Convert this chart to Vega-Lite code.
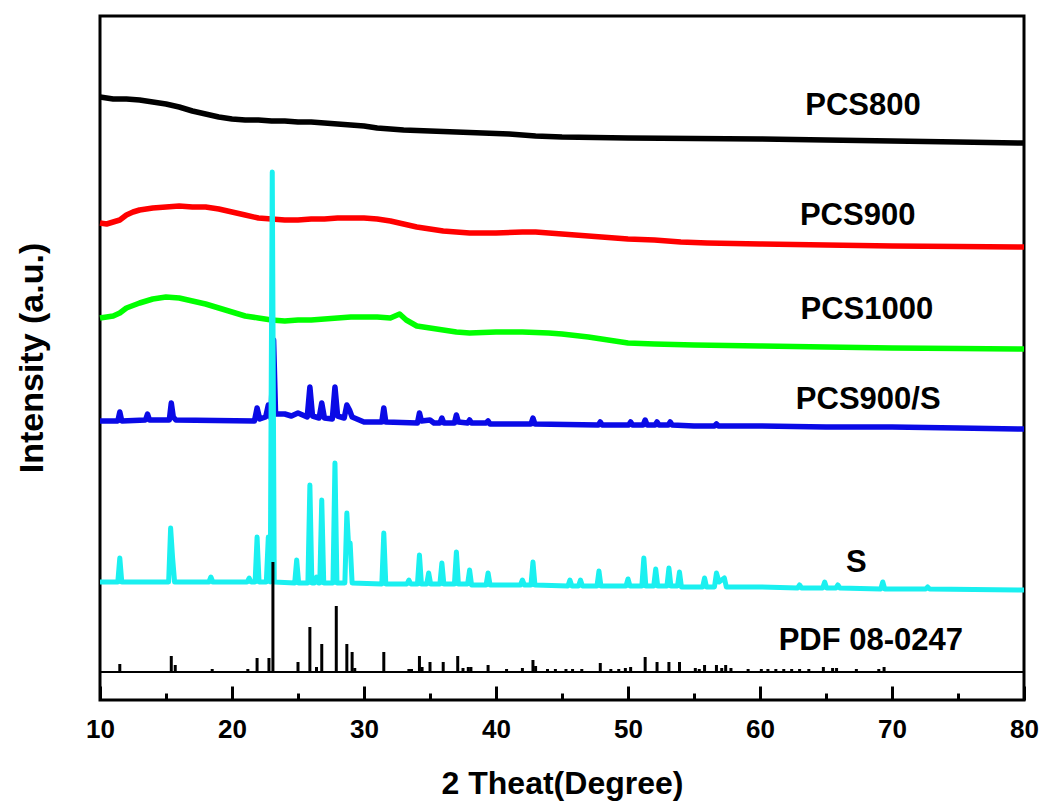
{
  "$schema": "https://vega.github.io/schema/vega-lite/v6.json",
  "width": 924,
  "height": 684,
  "autosize": "none",
  "padding": {"left": 100, "top": 16, "right": 20, "bottom": 102},
  "background": "white",
  "title": {
    "text": "Intensity (a.u.)",
    "orient": "left",
    "anchor": "middle",
    "frame": "group",
    "font": "Liberation Sans",
    "fontSize": 34,
    "fontWeight": "bold",
    "color": "black",
    "offset": 36
  },
  "config": {
    "view": {"stroke": "black", "strokeWidth": 3},
    "font": "Liberation Sans"
  },
  "datasets": {
    "curves": [
      {"s":"PCS800","x":10,"y":603},{"s":"PCS800","x":11,"y":601},{"s":"PCS800","x":12,"y":601},{"s":"PCS800","x":13,"y":600},{"s":"PCS800","x":14,"y":598},{"s":"PCS800","x":15,"y":596},{"s":"PCS800","x":16,"y":593},{"s":"PCS800","x":17,"y":589},{"s":"PCS800","x":18,"y":586},{"s":"PCS800","x":19,"y":583},{"s":"PCS800","x":20,"y":581},{"s":"PCS800","x":21,"y":580},{"s":"PCS800","x":22,"y":580},{"s":"PCS800","x":23,"y":579},{"s":"PCS800","x":24,"y":579},{"s":"PCS800","x":25,"y":578},{"s":"PCS800","x":26,"y":578},{"s":"PCS800","x":27,"y":577},{"s":"PCS800","x":28,"y":576},{"s":"PCS800","x":29,"y":575},{"s":"PCS800","x":30,"y":574},{"s":"PCS800","x":31,"y":572},{"s":"PCS800","x":32,"y":571},{"s":"PCS800","x":33,"y":570},{"s":"PCS800","x":35,"y":569},{"s":"PCS800","x":37,"y":568},{"s":"PCS800","x":39,"y":567},{"s":"PCS800","x":41,"y":566},{"s":"PCS800","x":43,"y":564},{"s":"PCS800","x":45,"y":563},{"s":"PCS800","x":50,"y":562},{"s":"PCS800","x":55,"y":561.5},{"s":"PCS800","x":60,"y":561},{"s":"PCS800","x":65,"y":560},{"s":"PCS800","x":70,"y":559},{"s":"PCS800","x":75,"y":558},{"s":"PCS800","x":80,"y":557},
      {"s":"PCS900","x":10,"y":477},{"s":"PCS900","x":10.5,"y":476},{"s":"PCS900","x":11,"y":478},{"s":"PCS900","x":11.5,"y":480},{"s":"PCS900","x":12,"y":485},{"s":"PCS900","x":12.5,"y":488},{"s":"PCS900","x":13,"y":490},{"s":"PCS900","x":14,"y":492},{"s":"PCS900","x":15,"y":493},{"s":"PCS900","x":16,"y":494},{"s":"PCS900","x":17,"y":493},{"s":"PCS900","x":18,"y":493},{"s":"PCS900","x":19,"y":491},{"s":"PCS900","x":20,"y":488},{"s":"PCS900","x":21,"y":485},{"s":"PCS900","x":22,"y":482},{"s":"PCS900","x":23,"y":481},{"s":"PCS900","x":24,"y":480},{"s":"PCS900","x":25,"y":480},{"s":"PCS900","x":26,"y":481},{"s":"PCS900","x":27,"y":481},{"s":"PCS900","x":28,"y":482},{"s":"PCS900","x":29,"y":482},{"s":"PCS900","x":30,"y":482},{"s":"PCS900","x":31,"y":481},{"s":"PCS900","x":32,"y":479},{"s":"PCS900","x":33,"y":476},{"s":"PCS900","x":34,"y":473},{"s":"PCS900","x":35,"y":471},{"s":"PCS900","x":36,"y":469},{"s":"PCS900","x":37,"y":468},{"s":"PCS900","x":38,"y":467},{"s":"PCS900","x":40,"y":467},{"s":"PCS900","x":42,"y":468},{"s":"PCS900","x":43,"y":468},{"s":"PCS900","x":44,"y":467},{"s":"PCS900","x":45,"y":466},{"s":"PCS900","x":46,"y":465},{"s":"PCS900","x":48,"y":463},{"s":"PCS900","x":50,"y":461},{"s":"PCS900","x":52,"y":460},{"s":"PCS900","x":54,"y":458},{"s":"PCS900","x":56,"y":457},{"s":"PCS900","x":60,"y":456},{"s":"PCS900","x":65,"y":455},{"s":"PCS900","x":70,"y":454},{"s":"PCS900","x":75,"y":453.5},{"s":"PCS900","x":80,"y":453},
      {"s":"PCS1000","x":10,"y":382},{"s":"PCS1000","x":11,"y":384},{"s":"PCS1000","x":11.5,"y":387},{"s":"PCS1000","x":12,"y":392},{"s":"PCS1000","x":13,"y":397},{"s":"PCS1000","x":14,"y":401},{"s":"PCS1000","x":15,"y":403},{"s":"PCS1000","x":16,"y":402},{"s":"PCS1000","x":17,"y":399},{"s":"PCS1000","x":18,"y":396},{"s":"PCS1000","x":19,"y":392},{"s":"PCS1000","x":20,"y":388},{"s":"PCS1000","x":21,"y":384},{"s":"PCS1000","x":22,"y":382},{"s":"PCS1000","x":23,"y":380},{"s":"PCS1000","x":24,"y":379},{"s":"PCS1000","x":25,"y":380},{"s":"PCS1000","x":26,"y":380},{"s":"PCS1000","x":27,"y":381},{"s":"PCS1000","x":28,"y":382},{"s":"PCS1000","x":29,"y":383},{"s":"PCS1000","x":30,"y":383},{"s":"PCS1000","x":31,"y":383},{"s":"PCS1000","x":32,"y":382},{"s":"PCS1000","x":32.7,"y":386},{"s":"PCS1000","x":33.2,"y":380},{"s":"PCS1000","x":34,"y":374},{"s":"PCS1000","x":35,"y":372},{"s":"PCS1000","x":36,"y":370},{"s":"PCS1000","x":37,"y":368},{"s":"PCS1000","x":38,"y":367},{"s":"PCS1000","x":40,"y":368},{"s":"PCS1000","x":42,"y":368},{"s":"PCS1000","x":44,"y":367},{"s":"PCS1000","x":45,"y":366},{"s":"PCS1000","x":47,"y":363},{"s":"PCS1000","x":49,"y":359},{"s":"PCS1000","x":50,"y":357},{"s":"PCS1000","x":52,"y":356},{"s":"PCS1000","x":55,"y":355},{"s":"PCS1000","x":60,"y":354},{"s":"PCS1000","x":65,"y":353},{"s":"PCS1000","x":70,"y":352},{"s":"PCS1000","x":75,"y":351.5},{"s":"PCS1000","x":80,"y":351},
      {"s":"PCS900/S","x":10,"y":279},{"s":"PCS900/S","x":11.35,"y":279},{"s":"PCS900/S","x":11.5,"y":288},{"s":"PCS900/S","x":11.65,"y":279},{"s":"PCS900/S","x":13.45,"y":280},{"s":"PCS900/S","x":13.6,"y":286},{"s":"PCS900/S","x":13.75,"y":280},{"s":"PCS900/S","x":15.25,"y":280},{"s":"PCS900/S","x":15.4,"y":297},{"s":"PCS900/S","x":15.55,"y":283},{"s":"PCS900/S","x":15.75,"y":280},{"s":"PCS900/S","x":21.7,"y":279},{"s":"PCS900/S","x":21.9,"y":292},{"s":"PCS900/S","x":22.1,"y":281},{"s":"PCS900/S","x":22.55,"y":283},{"s":"PCS900/S","x":22.75,"y":295},{"s":"PCS900/S","x":22.95,"y":282},{"s":"PCS900/S","x":23.15,"y":360},{"s":"PCS900/S","x":23.3,"y":286},{"s":"PCS900/S","x":24,"y":286},{"s":"PCS900/S","x":24.5,"y":284},{"s":"PCS900/S","x":25,"y":287},{"s":"PCS900/S","x":25.7,"y":283},{"s":"PCS900/S","x":25.9,"y":313},{"s":"PCS900/S","x":26.1,"y":284},{"s":"PCS900/S","x":26.6,"y":282},{"s":"PCS900/S","x":26.8,"y":297},{"s":"PCS900/S","x":27,"y":282},{"s":"PCS900/S","x":27.6,"y":281},{"s":"PCS900/S","x":27.8,"y":313},{"s":"PCS900/S","x":28,"y":284},{"s":"PCS900/S","x":28.5,"y":282},{"s":"PCS900/S","x":28.7,"y":295},{"s":"PCS900/S","x":28.9,"y":290},{"s":"PCS900/S","x":29.1,"y":283},{"s":"PCS900/S","x":30,"y":278},{"s":"PCS900/S","x":31.35,"y":278},{"s":"PCS900/S","x":31.5,"y":292},{"s":"PCS900/S","x":31.65,"y":278},{"s":"PCS900/S","x":34.05,"y":277},{"s":"PCS900/S","x":34.2,"y":287},{"s":"PCS900/S","x":34.35,"y":279},{"s":"PCS900/S","x":35,"y":280},{"s":"PCS900/S","x":35.3,"y":277},{"s":"PCS900/S","x":35.75,"y":277},{"s":"PCS900/S","x":35.9,"y":282},{"s":"PCS900/S","x":36.05,"y":277},{"s":"PCS900/S","x":36.85,"y":277},{"s":"PCS900/S","x":37,"y":285},{"s":"PCS900/S","x":37.15,"y":278},{"s":"PCS900/S","x":37.85,"y":277},{"s":"PCS900/S","x":38,"y":280},{"s":"PCS900/S","x":38.15,"y":277},{"s":"PCS900/S","x":39.25,"y":277},{"s":"PCS900/S","x":39.4,"y":279},{"s":"PCS900/S","x":39.55,"y":276},{"s":"PCS900/S","x":42.65,"y":276},{"s":"PCS900/S","x":42.8,"y":282},{"s":"PCS900/S","x":42.95,"y":276},{"s":"PCS900/S","x":47.75,"y":275},{"s":"PCS900/S","x":47.9,"y":278},{"s":"PCS900/S","x":48.05,"y":275},{"s":"PCS900/S","x":50.05,"y":275},{"s":"PCS900/S","x":50.2,"y":278},{"s":"PCS900/S","x":50.35,"y":275},{"s":"PCS900/S","x":51.15,"y":275},{"s":"PCS900/S","x":51.3,"y":280},{"s":"PCS900/S","x":51.45,"y":275},{"s":"PCS900/S","x":52.05,"y":275},{"s":"PCS900/S","x":52.2,"y":278},{"s":"PCS900/S","x":52.35,"y":275},{"s":"PCS900/S","x":53.05,"y":275},{"s":"PCS900/S","x":53.2,"y":278},{"s":"PCS900/S","x":53.35,"y":275},{"s":"PCS900/S","x":55,"y":274},{"s":"PCS900/S","x":56.55,"y":274},{"s":"PCS900/S","x":56.7,"y":276},{"s":"PCS900/S","x":56.85,"y":274},{"s":"PCS900/S","x":60,"y":274},{"s":"PCS900/S","x":65,"y":273},{"s":"PCS900/S","x":70,"y":273},{"s":"PCS900/S","x":75,"y":272},{"s":"PCS900/S","x":80,"y":271}
    ],
    "sulfur": [
      {"x":10,"y":118},{"x":11.35,"y":118},{"x":11.5,"y":142},{"x":11.65,"y":118},{"x":15.2,"y":118},{"x":15.35,"y":172},{"x":15.5,"y":142},{"x":15.65,"y":118},{"x":18.25,"y":118},{"x":18.4,"y":123},{"x":18.55,"y":118},{"x":21.15,"y":118},{"x":21.3,"y":122},{"x":21.45,"y":118},{"x":21.75,"y":118},{"x":21.9,"y":163},{"x":22.05,"y":118},{"x":22.6,"y":118},{"x":22.75,"y":163},{"x":22.9,"y":118},{"x":23.05,"y":528},{"x":23.2,"y":118},{"x":24.75,"y":117},{"x":24.9,"y":140},{"x":25.05,"y":117},{"x":25.75,"y":117},{"x":25.9,"y":215},{"x":26.05,"y":117},{"x":26.25,"y":117},{"x":26.4,"y":123},{"x":26.55,"y":117},{"x":26.65,"y":117},{"x":26.8,"y":200},{"x":26.95,"y":117},{"x":27.65,"y":117},{"x":27.8,"y":237},{"x":27.95,"y":117},{"x":28.55,"y":117},{"x":28.7,"y":187},{"x":28.85,"y":150},{"x":28.95,"y":157},{"x":29.1,"y":117},{"x":31.35,"y":116},{"x":31.5,"y":167},{"x":31.65,"y":116},{"x":33.25,"y":116},{"x":33.4,"y":120},{"x":33.55,"y":116},{"x":34.05,"y":116},{"x":34.2,"y":145},{"x":34.35,"y":116},{"x":34.75,"y":116},{"x":34.9,"y":127},{"x":35.05,"y":116},{"x":35.75,"y":116},{"x":35.9,"y":137},{"x":36.05,"y":116},{"x":36.85,"y":116},{"x":37,"y":148},{"x":37.15,"y":116},{"x":37.85,"y":116},{"x":38,"y":130},{"x":38.15,"y":115},{"x":39.25,"y":115},{"x":39.4,"y":127},{"x":39.55,"y":115},{"x":41.85,"y":115},{"x":42,"y":120},{"x":42.15,"y":115},{"x":42.65,"y":115},{"x":42.8,"y":138},{"x":42.95,"y":115},{"x":45.45,"y":114},{"x":45.6,"y":120},{"x":45.75,"y":114},{"x":46.25,"y":114},{"x":46.4,"y":120},{"x":46.55,"y":114},{"x":47.65,"y":114},{"x":47.8,"y":129},{"x":47.95,"y":114},{"x":49.85,"y":114},{"x":50,"y":121},{"x":50.15,"y":114},{"x":51.05,"y":114},{"x":51.2,"y":142},{"x":51.35,"y":114},{"x":51.95,"y":114},{"x":52.1,"y":131},{"x":52.25,"y":114},{"x":52.95,"y":114},{"x":53.1,"y":132},{"x":53.25,"y":114},{"x":53.75,"y":114},{"x":53.9,"y":128},{"x":54.05,"y":113},{"x":55.65,"y":113},{"x":55.8,"y":122},{"x":55.95,"y":113},{"x":56.55,"y":113},{"x":56.7,"y":127},{"x":56.9,"y":118},{"x":57.3,"y":122},{"x":57.45,"y":113},{"x":60,"y":113},{"x":62.85,"y":112},{"x":63,"y":115},{"x":63.15,"y":112},{"x":64.75,"y":112},{"x":64.9,"y":118},{"x":65.05,"y":112},{"x":65.75,"y":112},{"x":65.9,"y":115},{"x":66.05,"y":112},{"x":69.15,"y":111},{"x":69.3,"y":118},{"x":69.45,"y":111},{"x":72.55,"y":111},{"x":72.7,"y":113},{"x":72.85,"y":111},{"x":80,"y":110}
    ],
    "pdf": [
      {"x":11.5,"y":36},{"x":15.4,"y":44},{"x":15.7,"y":35},{"x":18.5,"y":31},{"x":21.2,"y":31},{"x":21.9,"y":42},{"x":22.8,"y":42},{"x":23.1,"y":138},{"x":25.0,"y":38},{"x":25.9,"y":73},{"x":26.4,"y":33},{"x":26.8,"y":56},{"x":27.9,"y":94},{"x":28.7,"y":56},{"x":29.1,"y":48},{"x":29.3,"y":32},{"x":31.5,"y":48},{"x":33.4,"y":31},{"x":33.6,"y":31},{"x":34.2,"y":44},{"x":34.4,"y":33},{"x":35.0,"y":38},{"x":36.0,"y":38},{"x":37.1,"y":44},{"x":37.5,"y":32},{"x":37.9,"y":33},{"x":38.1,"y":33},{"x":39.4,"y":35},{"x":40.8,"y":31},{"x":42.0,"y":32},{"x":42.8,"y":40},{"x":43.0,"y":34},{"x":43.9,"y":31},{"x":44.5,"y":31},{"x":45.3,"y":31},{"x":45.8,"y":31},{"x":46.5,"y":31},{"x":47.9,"y":37},{"x":48.7,"y":31},{"x":49.3,"y":31},{"x":49.8,"y":32},{"x":50.2,"y":33},{"x":51.3,"y":43},{"x":52.2,"y":38},{"x":53.1,"y":38},{"x":53.9,"y":38},{"x":55.1,"y":32},{"x":55.4,"y":31},{"x":55.8,"y":35},{"x":56.7,"y":35},{"x":57.1,"y":32},{"x":57.4,"y":35},{"x":57.8,"y":32},{"x":59.1,"y":31},{"x":60.1,"y":31},{"x":60.6,"y":31},{"x":61.2,"y":31},{"x":61.8,"y":31},{"x":62.4,"y":31},{"x":63.0,"y":31},{"x":63.7,"y":31},{"x":64.8,"y":33},{"x":65.5,"y":32},{"x":65.8,"y":32},{"x":67.3,"y":31},{"x":69.0,"y":31},{"x":69.4,"y":33}
    ],
    "labels": [
      {"t":"PCS800","x":67.8,"y":594},
      {"t":"PCS900","x":67.4,"y":484},
      {"t":"PCS1000","x":68.1,"y":390},
      {"t":"PCS900/S","x":68.2,"y":300},
      {"t":"S","x":67.3,"y":137},
      {"t":"PDF 08-0247","x":68.4,"y":59}
    ]
  },
  "layer": [
    {
      "data": {"name": "curves"},
      "mark": {"type": "line", "strokeWidth": 5.5, "strokeJoin": "round"},
      "encoding": {
        "x": {
          "field": "x", "type": "quantitative",
          "scale": {"domain": [10, 80], "nice": false},
          "axis": {
            "orient": "bottom",
            "values": [10, 20, 30, 40, 50, 60, 70, 80],
            "title": "2 Theat(Degree)",
            "titleFont": "Liberation Sans", "titleFontSize": 32, "titleFontWeight": "bold", "titleColor": "black",
            "titlePadding": 26,
            "labelFont": "Liberation Sans", "labelFontSize": 26, "labelFontWeight": "bold", "labelColor": "black",
            "labelPadding": 30, "labelFlush": false, "labelOverlap": false,
            "tickSize": -14, "tickWidth": 3, "tickColor": "black",
            "domain": false, "grid": false
          }
        },
        "y": {
          "field": "y", "type": "quantitative",
          "scale": {"domain": [0, 684], "nice": false},
          "axis": null
        },
        "color": {
          "field": "s", "type": "nominal",
          "scale": {"domain": ["PCS800", "PCS900", "PCS1000", "PCS900/S"], "range": ["#000000", "#FF0000", "#00FF00", "#0A0AE6"]},
          "legend": null
        }
      }
    },
    {
      "data": {"name": "sulfur"},
      "mark": {"type": "line", "strokeWidth": 5, "strokeJoin": "round", "color": "#1AF0F0"},
      "encoding": {
        "x": {
          "field": "x", "type": "quantitative",
          "axis": {
            "orient": "bottom",
            "values": [15, 25, 35, 45, 55, 65, 75],
            "title": null, "labels": false,
            "tickSize": -7, "tickWidth": 3, "tickColor": "black",
            "domain": false, "grid": false
          }
        },
        "y": {"field": "y", "type": "quantitative", "axis": null}
      }
    },
    {
      "data": {"values": [{}]},
      "mark": {"type": "rule", "color": "black", "strokeWidth": 2},
      "encoding": {"y": {"datum": 28, "type": "quantitative", "axis": null}}
    },
    {
      "data": {"name": "pdf"},
      "mark": {"type": "rule", "color": "black", "strokeWidth": 3},
      "encoding": {
        "x": {"field": "x", "type": "quantitative", "axis": null},
        "y": {"field": "y", "type": "quantitative", "axis": null},
        "y2": {"datum": 28}
      }
    },
    {
      "data": {"name": "labels"},
      "mark": {"type": "text", "font": "Liberation Sans", "fontSize": 31, "fontWeight": "bold", "color": "black", "align": "center", "baseline": "middle"},
      "encoding": {
        "x": {"field": "x", "type": "quantitative", "axis": null},
        "y": {"field": "y", "type": "quantitative", "axis": null},
        "text": {"field": "t"}
      }
    }
  ],
  "resolve": {"axis": {"x": "independent"}}
}
